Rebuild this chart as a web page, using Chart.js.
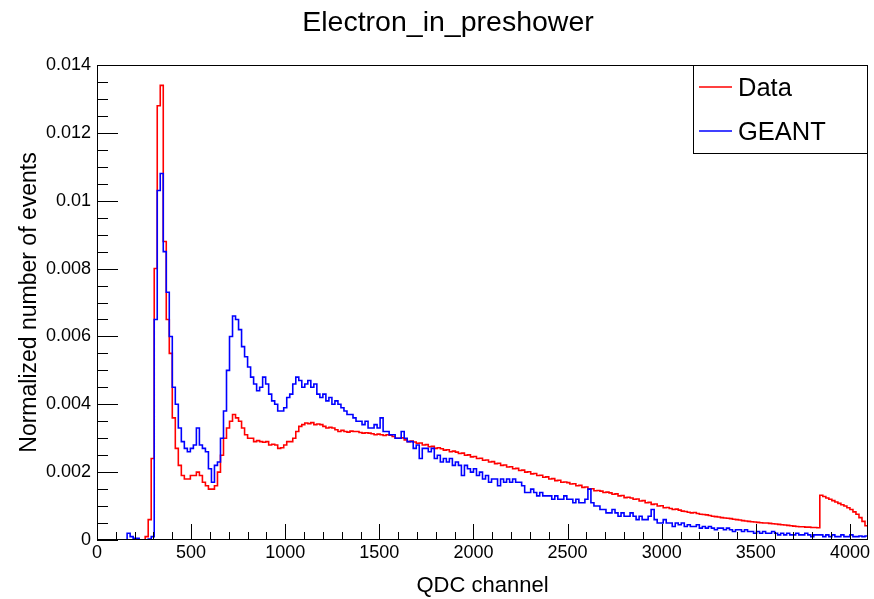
<!DOCTYPE html>
<html><head><meta charset="utf-8">
<script src="https://cdn.jsdelivr.net/npm/chart.js@4.4.1/dist/chart.umd.min.js"></script>
<style>html,body{margin:0;padding:0;background:#fff}canvas{display:block}</style>
</head><body>
<canvas id="c" width="874" height="599"></canvas>
<script>
const chartTitle = 'Electron_in_preshower';
const xAxisTitle = 'QDC channel';
const yAxisTitle = 'Normalized number of events';
const seriesNames = ['Data', 'GEANT'];
const binWidth = 16;          // QDC channels per bin
const xMax = 4096;
const valueUnit = 1e-4;       // values below are in units of 1e-4
const xTickValues = [0, 500, 1000, 1500, 2000, 2500, 3000, 3500, 4000];
const xTickLabels = ['0', '500', '1000', '1500', '2000', '2500', '3000', '3500', '4000'];
const yTickValues = [0, 0.002, 0.004, 0.006, 0.008, 0.01, 0.012, 0.014];
const yTickLabels = ['0', '0.002', '0.004', '0.006', '0.008', '0.01', '0.012', '0.014'];

const dataValues = [
  0,0,0,0,0,0,0,0,0,0,
  0,0,0,0,0,0,1,6,24,80,
  128,134,88,65,55,36,27,22,19,18,
  18,19,19,20,19,17,16,15,15,16,
  20,25,30,33,35,37,36,35,33,31,
  30,30,29,29.3,29,28.8,29,28,28.2,28,
  27,27.2,28,29,29,30,32,33.5,34,34.5,
  34.3,34.6,34,34.2,34,33.5,33,33.2,33,32.5,
  32,32.3,32,31.8,32.1,32,32,31.7,31.5,31.6,
  31.5,31.3,31,31.2,31,30.8,31,30.9,30.5,30,
  30,30.1,29.5,29,29.2,28.9,28.5,28.6,28,28.1,
  27.5,27.6,27,27.2,26.9,26.5,26.6,26,26.2,25.9,
  25.5,25.6,25,25.1,24.5,24.6,24,24.1,23.5,23.6,
  23,23.1,22.5,22.6,22,22.1,21.5,21.6,21,21.1,
  20.5,20.6,20,20.1,19.5,19.6,19,19.1,18.5,18.6,
  18,18.1,17.5,17.6,17,17.1,16.9,16.5,16.6,16,
  16.1,15.5,15.6,15,15.1,14.5,14.6,14.4,14,14.1,
  13.9,13.5,13.6,13,13.1,12.5,12.6,12.4,12,12.1,
  11.5,11.6,11,11.1,10.5,10.6,10,10.1,9.5,9.6,
  9.3,9,9.1,8.8,8.5,8.4,8.2,8,8.1,7.8,
  7.6,7.5,7.4,7.2,7,6.9,6.8,6.6,6.5,6.4,
  6.3,6.1,6,5.9,5.7,5.6,5.5,5.4,5.3,5.2,
  5.1,5,5,4.9,4.8,4.7,4.6,4.5,4.4,4.3,
  4.2,4.1,4,3.9,3.9,3.8,3.8,3.7,3.7,3.6,
  13.2,12.8,12.4,12,11.6,11.2,10.8,10.4,10,9.5,
  9,8.3,7.6,6.6,5.5,4.2
];

const geantValues = [
  0,0,0,0,0,0,0,0,0,0,
  2,1,0.5,0.5,0,0,0,0.3,1,65,
  103,108,85,73,60,45,40,33,29,27,
  26,27,28,33,28,27,26,21,17,22,
  23,30,38,50,60,66,65,62,57,54,
  51,48,46,44,45,48,46,43,41,40,
  38,38,39,42,43,46,48,47,45,46,
  47,45,46,43,42,43,41,42,40,41,
  40,39,38,37,37,36,35,35,34,35,
  33,33,34,33,36,32,32,31,31,30,
  30,32,30,29,29,27,28,24,27,27,
  26,27,24,25,23,24,23,24,22,23,
  22,19,22,21,20,21,19,20,18,19,
  17,18,18,16,18,17,18,17,18,17,
  17,16,14,14,15,14,13,14,13,13,
  13,12,13,12,12,13,12,12,11,12,
  11,11,12,15,11,10,10,9,9,8,
  8,9,8,7,8,7,7,8,7,6,
  7,6,6,7,9,6,5,5,6,5,
  5,4,5,4.5,5,4,4.5,4,4,4.5,
  3.5,4,3.5,4,3.5,3,3.5,3.5,3,3.5,
  3,2.5,3,3,2.5,3,2.5,2.5,2,2.5,
  2,2.5,2,2,2.5,2,1.5,2,1.5,2,
  1.5,1.5,2,1.5,1.5,2,1.5,1,1.5,1.5,
  1.5,1,1.5,1,1.5,1,1,1.5,1,1,
  1.5,1,1,1.2,1,1.2
];

function toSteps(values) {
  const pts = values.map((v, i) => ({ x: i * binWidth, y: v * valueUnit }));
  pts.push({ x: values.length * binWidth, y: values[values.length - 1] * valueUnit });
  return pts;
}

const FONT = "'Liberation Sans', Arial, Helvetica, sans-serif";
Chart.defaults.color = '#000';
Chart.defaults.font.family = FONT;

const rootFrame = {
  id: 'rootFrame',
  afterDatasetsDraw(chart) {
    const { ctx, chartArea: a, scales: { x, y } } = chart;
    ctx.save();
    ctx.strokeStyle = '#000';
    ctx.lineWidth = 1;
    ctx.beginPath();
    for (let k = 0; k * 100 <= xMax; k++) {
      const px = Math.round(x.getPixelForValue(k * 100)) + 0.5;
      const len = (k % 5 === 0) ? 16 : 8;
      ctx.moveTo(px, a.bottom); ctx.lineTo(px, a.bottom - len);
    }
    for (let k = 0; k <= 28; k++) {
      const py = Math.round(y.getPixelForValue(k * 0.0005)) + 0.5;
      const len = (k % 4 === 0) ? 21 : 11;
      ctx.moveTo(a.left, py); ctx.lineTo(a.left + len, py);
    }
    ctx.stroke();
    ctx.strokeRect(a.left + 0.5, a.top + 0.5, a.width - 1, a.height - 1);
    ctx.restore();
  },
  afterDraw(chart) {
    const { ctx, chartArea: a } = chart;
    ctx.save();
    // title
    ctx.fillStyle = '#000';
    ctx.font = '28.5px ' + FONT;
    ctx.textAlign = 'center';
    ctx.textBaseline = 'middle';
    ctx.fillText(chartTitle, 448, 23);
    // legend
    const lx = 693.5, ly = a.top + 0.5, lw = a.right - 693.5 - 0.5, lh = 88;
    ctx.fillStyle = '#fff';
    ctx.fillRect(lx, ly, lw, lh);
    ctx.strokeStyle = '#000';
    ctx.lineWidth = 1;
    ctx.strokeRect(lx, ly, lw, lh);
    const colors = chart.data.datasets.map(d => d.borderColor);
    const rows = [87, 131];
    ctx.font = '25.5px ' + FONT;
    ctx.textAlign = 'left';
    ctx.textBaseline = 'alphabetic';
    seriesNames.forEach((name, i) => {
      ctx.strokeStyle = colors[i];
      ctx.lineWidth = 1.5;
      ctx.beginPath();
      ctx.moveTo(699, rows[i]); ctx.lineTo(732, rows[i]);
      ctx.stroke();
      ctx.fillStyle = '#000';
      ctx.fillText(name, 738, rows[i] + 9);
    });
    ctx.restore();
  }
};

new Chart(document.getElementById('c'), {
  type: 'line',
  data: {
    datasets: [
      { label: seriesNames[0], data: toSteps(dataValues), borderColor: '#ff0000',
        borderWidth: 1.6, stepped: 'before', pointRadius: 0, fill: false, order: 2 },
      { label: seriesNames[1], data: toSteps(geantValues), borderColor: '#0000ff',
        borderWidth: 1.6, stepped: 'before', pointRadius: 0, fill: false, order: 1 }
    ]
  },
  options: {
    responsive: false,
    animation: false,
    devicePixelRatio: 1,
    layout: { padding: { top: 65, right: 6, left: 0, bottom: 0 } },
    plugins: { legend: { display: false }, title: { display: false }, tooltip: { enabled: false } },
    scales: {
      x: {
        type: 'linear', min: 0, max: xMax,
        grid: { display: false, drawTicks: false },
        border: { display: false },
        afterBuildTicks: s => { s.ticks = xTickValues.map(v => ({ value: v })); },
        afterFit: s => { s.height = 59; },
        ticks: { padding: 2, font: { size: 18 }, maxRotation: 0, autoSkip: false,
                 callback: (v, i) => xTickLabels[i] },
        title: { display: true, text: xAxisTitle, font: { size: 22 }, padding: { top: 0, bottom: 0 } }
      },
      y: {
        type: 'linear', min: 0, max: 0.014,
        grid: { display: false, drawTicks: false },
        border: { display: false },
        afterBuildTicks: s => { s.ticks = yTickValues.map(v => ({ value: v })); },
        afterFit: s => { s.width = 97; },
        ticks: { padding: 6, font: { size: 18 }, autoSkip: false,
                 callback: (v, i) => yTickLabels[i] },
        title: { display: true, text: yAxisTitle, font: { size: 23 }, padding: { top: 16, bottom: 0 } }
      }
    }
  },
  plugins: [rootFrame]
});
</script>
</body></html>
